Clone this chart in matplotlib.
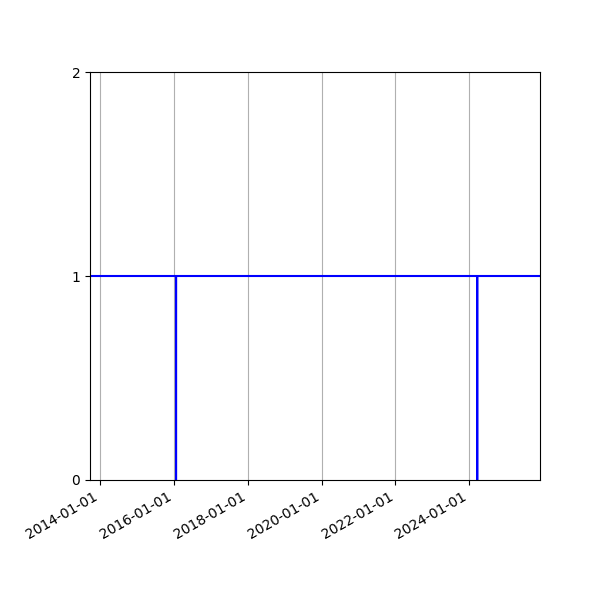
import matplotlib
matplotlib.use("Agg")
import matplotlib.pyplot as plt
import matplotlib.dates as mdates
import numpy as np
from datetime import datetime

dates = ["2013-09-24", "2016-01-22", "2016-01-23", "2016-01-24",
         "2024-03-19", "2024-03-20", "2024-03-21", "2025-12-01"]
values = [1, 1, 0, 1, 1, 0, 1, 1]
tick_dates = ["2014-01-01", "2016-01-01", "2018-01-01", "2020-01-01",
              "2022-01-01", "2024-01-01"]
y_ticks = [0, 1, 2]

x = [datetime.strptime(d, "%Y-%m-%d") for d in dates]
fig, ax = plt.subplots(figsize=(6, 6), dpi=100)
ax.plot(x, values, color="blue", linewidth=1.5)
ax.set_xlim(x[0], x[-1])
ax.set_ylim(0, 2)
ax.set_yticks(y_ticks)
ax.set_xticks([datetime.strptime(d, "%Y-%m-%d") for d in tick_dates])
ax.xaxis.set_major_formatter(mdates.DateFormatter("%Y-%m-%d"))
ax.grid(axis="x")
fig.autofmt_xdate()
fig.subplots_adjust(left=0.15, right=0.9, top=0.88, bottom=0.2)
fig.savefig("out.png")
